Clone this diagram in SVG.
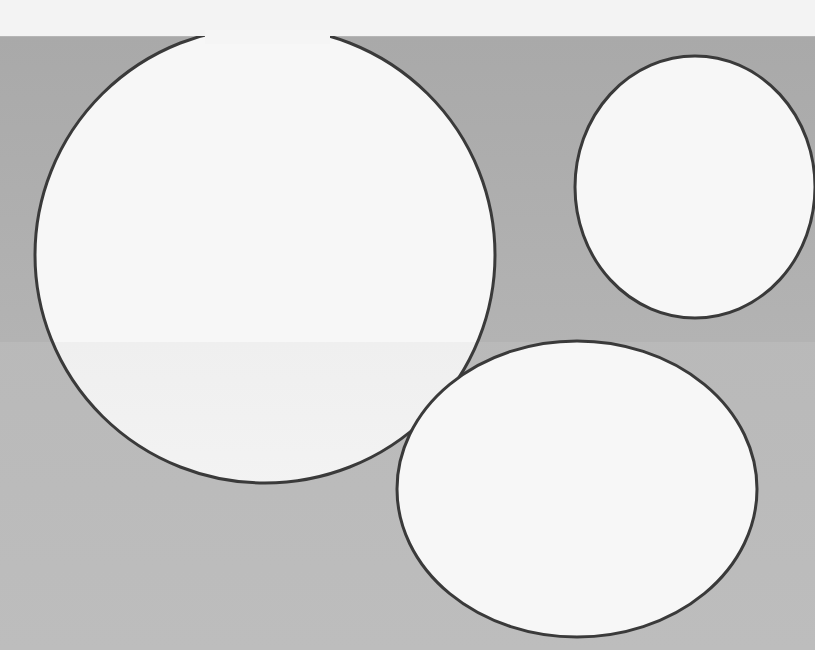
<svg xmlns="http://www.w3.org/2000/svg" width="815" height="650" viewBox="0 0 815 650">
<defs>
<linearGradient id="bgTop" x1="0" y1="0" x2="0" y2="1">
<stop offset="0" stop-color="#a9a9a9"/>
<stop offset="1" stop-color="#b3b3b3"/>
</linearGradient>
<linearGradient id="bgBot" x1="0" y1="0" x2="0" y2="1">
<stop offset="0" stop-color="#b5b5b5"/>
<stop offset="1" stop-color="#bdbdbd"/>
</linearGradient>
<linearGradient id="lowShade" x1="0" y1="0" x2="0" y2="1">
<stop offset="0" stop-color="#efefef"/>
<stop offset="1" stop-color="#f3f3f3"/>
</linearGradient>
<clipPath id="bigClip"><ellipse cx="265" cy="255" rx="230" ry="228"/></clipPath>
</defs>
<style>
.disc{fill:#f7f7f7;stroke:#3a3a3a;stroke-width:3}
.ring{fill:none;stroke:#3a3a3a;stroke-width:3}
</style>
<rect x="0" y="0" width="815" height="650" fill="url(#bgBot)"/>
<rect x="0" y="37" width="815" height="305" fill="url(#bgTop)"/>
<g id="big-circle">
<ellipse cx="265" cy="255" rx="230" ry="228" fill="#f7f7f7"/>
<rect x="0" y="342" width="815" height="150" fill="url(#lowShade)" clip-path="url(#bigClip)"/>
<ellipse class="ring" cx="265" cy="255" rx="230" ry="228"/>
</g>
<rect x="0" y="0" width="815" height="36" fill="#f3f3f3"/>
<rect x="205" y="30" width="125" height="14" fill="#f5f5f5"/>
<g id="small-circle">
<ellipse class="disc" cx="695" cy="187" rx="120" ry="131"/>
</g>
<g id="bottom-circle">
<ellipse class="disc" cx="577" cy="489" rx="180" ry="148"/>
</g>
</svg>
